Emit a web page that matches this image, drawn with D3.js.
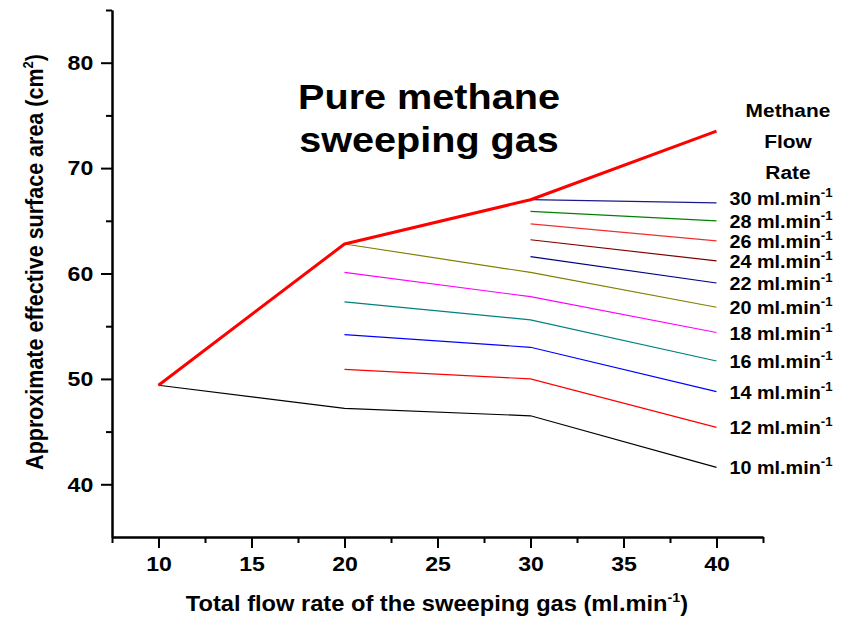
<html>
<head>
    <style>
        body { margin: 0; background: #fff; }
        text { font-family: "Liberation Sans", Arial, sans-serif; font-weight: bold; fill: #000; }
    </style>
    <script src="https://cdn.jsdelivr.net/npm/d3@7"></script>
</head>
<body>
    <svg id="container" width="842" height="619"></svg>
</body>
<script>
    // data
    const totalFlow = [10, 20, 30, 40]
    const pureMethane = [49.4, 62.8, 67.0, 73.5]
    const flowRates = [10, 12, 14, 16, 18, 20, 22, 24, 26, 28, 30]
    const area10 = [49.4, 47.2, 46.5, 41.6]
    const area12 = [null, 50.9, 50.0, 45.4]
    const area14 = [null, 54.2, 53.0, 48.8]
    const area16 = [null, 57.3, 55.6, 51.7]
    const area18 = [null, 60.1, 57.8, 54.4]
    const area20 = [null, 62.8, 60.1, 56.8]
    const area22 = [null, null, 61.6, 59.1]
    const area24 = [null, null, 63.2, 61.2]
    const area26 = [null, null, 64.7, 63.1]
    const area28 = [null, null, 65.9, 65.0]
    const area30 = [null, null, 67.0, 66.7]
    const xMajor = [10, 15, 20, 25, 30, 35, 40]
    const xMinor = [7.5, 12.5, 17.5, 22.5, 27.5, 32.5, 37.5, 42.5]
    const yMajor = [40, 50, 60, 70, 80]
    const yMinor = [45, 55, 65, 75, 85]

    const areas = [area10, area12, area14, area16, area18, area20, area22, area24, area26, area28, area30]
    const colors = ["#000000", "#ff0000", "#0000ff", "#008080", "#ff00ff", "#808000",
                    "#000080", "#800000", "#f03030", "#008000", "#1a1a8c"]

    // the original picture is a bit stretched sideways
    const sx = 1.1

    let svg = d3.select("#container")

    let x = d3.scaleLinear().domain([7.5, 42.5]).range([112, 763])
    let y = d3.scaleLinear().domain([35, 85]).range([537, 10])

    // axes
    svg.append("g").attr("transform", "translate(0,537)")
        .call(d3.axisBottom(x).tickValues(xMajor).tickSize(11).tickSizeOuter(0).tickPadding(8))
    svg.append("g").attr("transform", "translate(0,537)")
        .call(d3.axisBottom(x).tickValues(xMinor).tickSize(6).tickSizeOuter(0).tickFormat(""))
    svg.append("g").attr("transform", "translate(112,0)")
        .call(d3.axisLeft(y).tickValues(yMajor).tickSize(11).tickSizeOuter(0).tickPadding(6))
    svg.append("g").attr("transform", "translate(112,0)")
        .call(d3.axisLeft(y).tickValues(yMinor).tickSize(6).tickSizeOuter(0).tickFormat(""))

    svg.selectAll(".domain").attr("stroke", "#000").attr("stroke-width", 2)
    svg.selectAll(".tick line").attr("stroke", "#000").attr("stroke-width", 2)
    svg.selectAll(".tick text").style("font-size", "21px").style("font-weight", "bold")
        .style("font-family", "'Liberation Sans', Arial, sans-serif")
        .attr("transform", `scale(${sx},1)`)

    // lines
    let line = d3.line()
        .defined(d => d[1] != null)
        .x(d => x(d[0]))
        .y(d => y(d[1]))

    areas.forEach((a, i) => {
        svg.append("path")
            .attr("d", line(totalFlow.map((t, j) => [t, a[j]])))
            .attr("fill", "none")
            .attr("stroke", colors[i])
            .attr("stroke-width", 1.2)
    })

    svg.append("path")
        .attr("d", line(totalFlow.map((t, j) => [t, pureMethane[j]])))
        .attr("fill", "none")
        .attr("stroke", "#ff0000")
        .attr("stroke-width", 3)
        .attr("stroke-linejoin", "round")

    // series labels at line ends (top one sits a little higher, as in the original)
    areas.forEach((a, i) => {
        let nudge = i == areas.length - 1 ? -5 : 0
        let t = svg.append("text")
            .attr("transform", `translate(${x(40) + 13},${y(a[3]) + 7 + nudge}) scale(${sx},1)`)
            .style("font-size", "18px")
        t.append("tspan").text(flowRates[i] + " ml.min")
        t.append("tspan").attr("dy", -8).style("font-size", "12px").text("-1")
    })

    // legend header
    let header = ["Methane", "Flow", "Rate"]
    header.forEach((h, i) => {
        svg.append("text")
            .attr("transform", `translate(788,${117 + i * 31}) scale(${sx},1)`)
            .attr("text-anchor", "middle")
            .style("font-size", "19px")
            .text(h)
    })

    // title
    svg.append("text").attr("transform", `translate(429,109) scale(${sx},1)`).attr("text-anchor", "middle")
        .style("font-size", "36px").text("Pure methane")
    svg.append("text").attr("transform", `translate(429,152) scale(${sx},1)`).attr("text-anchor", "middle")
        .style("font-size", "36px").text("sweeping gas")

    // axis titles
    let xl = svg.append("text").attr("transform", `translate(437,611) scale(${sx},1)`)
        .attr("text-anchor", "middle")
        .style("font-size", "21.5px")
    xl.append("tspan").text("Total flow rate of the sweeping gas (ml.min")
    xl.append("tspan").attr("dy", -9).style("font-size", "13px").text("-1")
    xl.append("tspan").attr("dy", 9).text(")")

    let yl = svg.append("text").attr("transform", `translate(43,262) scale(${sx},1) rotate(-90)`)
        .attr("text-anchor", "middle")
        .style("font-size", "21.5px")
    yl.append("tspan").text("Approximate effective surface area (cm")
    yl.append("tspan").attr("dy", -9).style("font-size", "13px").text("2")
    yl.append("tspan").attr("dy", 9).text(")")
</script>
</html>
